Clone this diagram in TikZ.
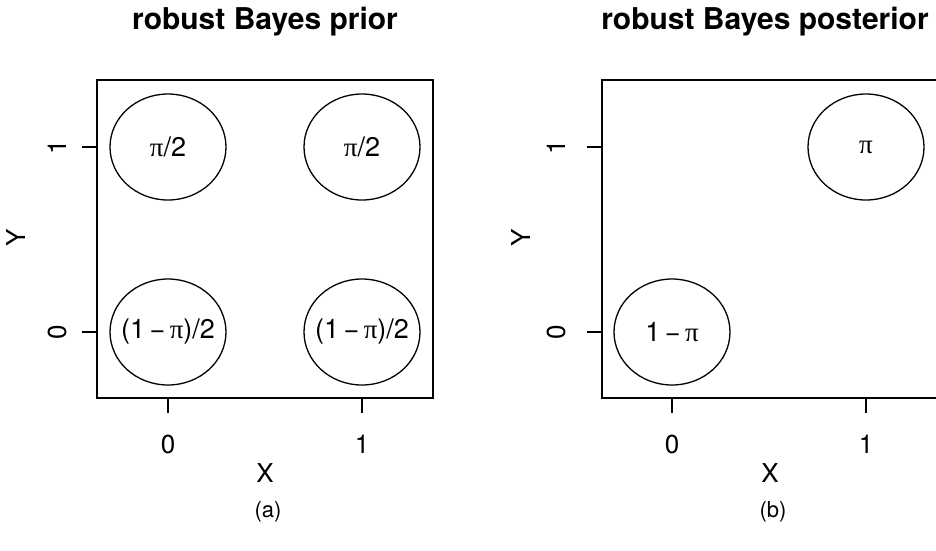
\documentclass[tikz,border=0pt]{standalone}
\usepackage{fontspec}
\setmainfont{TeX Gyre Heros}
\newfontfamily\greekfont{Liberation Serif}
\newcommand{\pisym}{{\greekfont π}}
\newcommand{\blobtxt}[1]{\makebox[0pt]{#1}}
\usetikzlibrary{shapes.geometric}

\tikzset{
  plotframe/.style={line width=1.4pt},
  tickmark/.style={line width=1.4pt},
  blob/.style={draw, line width=1.3pt, ellipse, minimum width=116pt,
    minimum height=106pt, inner sep=0pt, font=\fontsize{27}{27}\selectfont},
  ticklab/.style={font=\fontsize{26}{26}\selectfont, inner sep=0pt},
  axlab/.style={font=\fontsize{26}{26}\selectfont, inner sep=0pt},
  plottitle/.style={font=\fontsize{30}{30}\selectfont\bfseries, inner sep=0pt},
  sublab/.style={font=\fontsize{22}{22}\selectfont, inner sep=0pt}
}

\begin{document}
\begin{tikzpicture}[x=1pt, y=-1pt]
  \useasboundingbox (0,0) rectangle (936,550);

  % (a) prior
  \node[plottitle] (titleA) at (265,22) {robust Bayes prior};
  \draw[plotframe] (97,80) rectangle (433,398);
  \coordinate (ax0) at (168,398);
  \coordinate (ax1) at (362,398);
  \coordinate (ay0) at (97,332);
  \coordinate (ay1) at (97,147);
  \draw[tickmark] (ax0) -- ++(0,15);
  \draw[tickmark] (ax1) -- ++(0,15);
  \draw[tickmark] (ay0) -- ++(-15,0);
  \draw[tickmark] (ay1) -- ++(-15,0);
  \node[ticklab] (xtA0) at (168,444) {0};
  \node[ticklab] (xtA1) at (362,444) {1};
  \node[ticklab, rotate=90] (ytA0) at (57,332) {0};
  \node[ticklab, rotate=90] (ytA1) at (57,147) {1};
  \node[axlab] (xlabA) at (265,473) {X};
  \node[axlab, rotate=90] (ylabA) at (16,238) {Y};
  \node[sublab] (capA) at (268,512) {(a)};

  \node[blob] (pA01) at (168,147) {\blobtxt{\pisym/2}};
  \node[blob] (pA11) at (362,147) {\blobtxt{\pisym/2}};
  \node[blob] (pA00) at (168,332) {\blobtxt{(1\,\textminus\,\pisym)/2}};
  \node[blob] (pA10) at (362,332) {\blobtxt{(1\,\textminus\,\pisym)/2}};

  % (b) posterior
  \node[plottitle] (titleB) at (765,22) {robust Bayes posterior};
  \draw[plotframe] (602,80) rectangle (938,398);
  \coordinate (bx0) at (672,398);
  \coordinate (bx1) at (866,398);
  \coordinate (by0) at (602,332);
  \coordinate (by1) at (602,147);
  \draw[tickmark] (bx0) -- ++(0,15);
  \draw[tickmark] (bx1) -- ++(0,15);
  \draw[tickmark] (by0) -- ++(-15,0);
  \draw[tickmark] (by1) -- ++(-15,0);
  \node[ticklab] (xtB0) at (672,444) {0};
  \node[ticklab] (xtB1) at (866,444) {1};
  \node[ticklab, rotate=90] (ytB0) at (556,332) {0};
  \node[ticklab, rotate=90] (ytB1) at (556,147) {1};
  \node[axlab] (xlabB) at (770,473) {X};
  \node[axlab, rotate=90] (ylabB) at (521,238) {Y};
  \node[sublab] (capB) at (773,512) {(b)};

  \node[blob] (pB11) at (866,147) {\blobtxt{\pisym}};
  \node[blob] (pB00) at (672,332) {\blobtxt{1\,\textminus\,\pisym}};
\end{tikzpicture}
\end{document}
